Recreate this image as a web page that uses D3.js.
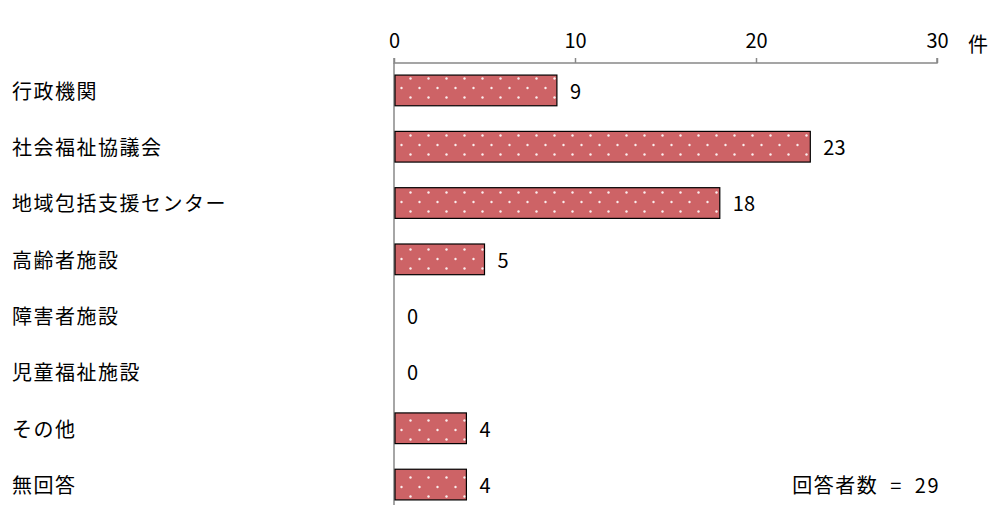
<!DOCTYPE html>
<html>
<head>
<meta charset="utf-8">
<script src="https://cdn.jsdelivr.net/npm/d3@7"></script>
<style>
  body { margin: 0; background: #fff; }
  text { font-family: "Noto Sans CJK JP", "Noto Sans", sans-serif; fill: #000; }
</style>
</head>
<body>
<div id="chart"></div>
<script>
// data
const categories = ['行政機関', '社会福祉協議会', '地域包括支援センター', '高齢者施設', '障害者施設', '児童福祉施設', 'その他', '無回答'];
const counts = [9, 23, 18, 5, 0, 0, 4, 4];
const tickValues = [0, 10, 20, 30];
const unitLabel = '件';
const noteLabel = '回答者数  =  29';

const width = 992;
const height = 505;

const rows = categories.map((c, i) => ({ name: c, value: counts[i] }));

const svg = d3.select('#chart').append('svg')
  .attr('width', width)
  .attr('height', height);

const x = d3.scaleLinear().domain([0, 30]).range([394, 937]);
const y = d3.scaleBand().domain(categories).range([61, 514]).paddingInner(0.455).paddingOuter(0.25);

// dotted fill
const pat = svg.append('defs').append('pattern')
  .attr('id', 'dots')
  .attr('patternUnits', 'userSpaceOnUse')
  .attr('width', 18)
  .attr('height', 19);
pat.append('rect').attr('width', 18).attr('height', 19).attr('fill', '#cd6366');
pat.append('circle').attr('cx', 14.5).attr('cy', 2.5).attr('r', 1.2).attr('fill', '#fbeeee');
pat.append('circle').attr('cx', 5.5).attr('cy', 12).attr('r', 1.2).attr('fill', '#fbeeee');

// top axis
const gAxis = svg.append('g')
  .attr('transform', 'translate(0,63)')
  .call(d3.axisTop(x).tickValues(tickValues).tickSize(5).tickPadding(10));
gAxis.select('.domain').attr('stroke', '#888').attr('stroke-width', 1.5)
  .attr('d', `M${x(0)},-5V0H${x(30)}V-5`);
gAxis.selectAll('.tick line').attr('stroke', '#888').attr('stroke-width', 1.5);
gAxis.selectAll('.tick text')
  .style('font-family', '"Noto Sans CJK JP", sans-serif')
  .attr('font-size', 20)
  .attr('fill', '#000');

// vertical baseline
svg.append('line')
  .attr('x1', x(0)).attr('x2', x(0))
  .attr('y1', 63).attr('y2', 505)
  .attr('stroke', '#888')
  .attr('stroke-width', 1.5);

// bars
svg.selectAll('.bar')
  .data(rows.filter(d => d.value > 0))
  .enter().append('rect')
  .attr('class', 'bar')
  .attr('x', x(0) + 1)
  .attr('y', d => y(d.name))
  .attr('width', d => x(d.value) - x(0) - 1)
  .attr('height', y.bandwidth())
  .attr('fill', 'url(#dots)')
  .attr('stroke', '#000')
  .attr('stroke-width', 1.2);

// value labels
svg.selectAll('.val')
  .data(rows)
  .enter().append('text')
  .attr('class', 'val')
  .attr('x', d => x(d.value) + 13)
  .attr('y', d => y(d.name) + y.bandwidth() / 2)
  .attr('dy', '0.42em')
  .attr('font-size', 20)
  .text(d => d.value);

// category labels
svg.selectAll('.cat')
  .data(categories)
  .enter().append('text')
  .attr('class', 'cat')
  .attr('x', 12)
  .attr('y', d => y(d) + y.bandwidth() / 2)
  .attr('dy', '0.42em')
  .attr('font-size', 20)
  .attr('letter-spacing', 1.5)
  .text(d => d);

svg.append('text')
  .attr('x', 968)
  .attr('y', 52)
  .attr('font-size', 20)
  .text(unitLabel);

svg.append('text')
  .attr('x', 940)
  .attr('y', y('無回答') + y.bandwidth() / 2)
  .attr('dy', '0.42em')
  .attr('text-anchor', 'end')
  .attr('font-size', 20)
  .attr('letter-spacing', 1.5)
  .style('white-space', 'pre')
  .text(noteLabel);
</script>
</body>
</html>
